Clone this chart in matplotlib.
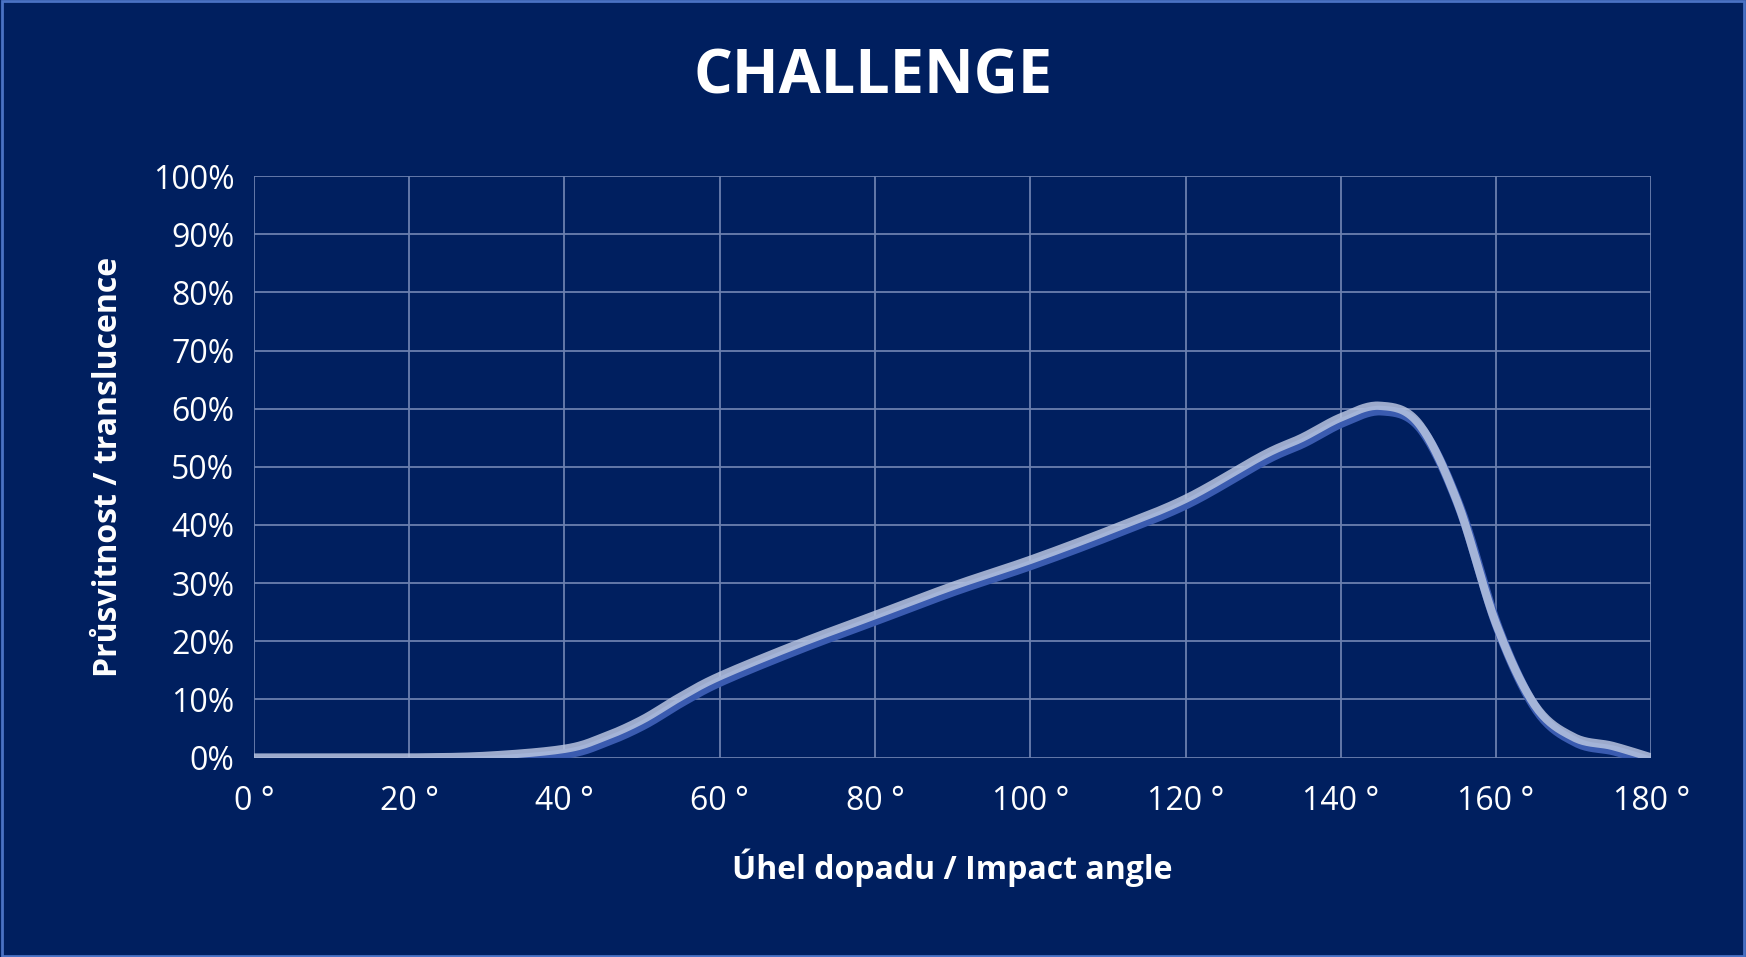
"""Challenge translucence vs impact angle chart."""

import matplotlib

matplotlib.use("Agg")

import matplotlib.pyplot as plt
import matplotlib.patheffects as pe
import numpy as np
from matplotlib.patches import Rectangle
from matplotlib.ticker import FuncFormatter, MultipleLocator

ANGLES = [0, 10, 20, 30, 40, 45, 50, 55, 60, 70, 80, 90, 100, 110, 120,
          130, 135, 140, 145, 150, 155, 160, 165, 170, 175, 180]
TRANSLUCENCE = [0, 0, 0, 0.3, 1.5, 3.5, 6.5, 10.5, 14, 19.5, 24.5, 29.5, 34,
                39, 44.5, 52, 55, 58.5, 60.5, 57.5, 44, 23, 9, 3.5, 2, 0]

BG = "#001f5f"
GRID = "#6b7fae"
FONT = ["Open Sans", "DejaVu Sans"]


def smooth(x, y, steps=20):
    # Catmull-Rom curve through the points, like a smoothed spreadsheet line
    x = np.asarray(x, float)
    y = np.asarray(y, float)
    px = np.concatenate([[x[0]], x, [x[-1]]])
    py = np.concatenate([[y[0]], y, [y[-1]]])
    xs, ys = [], []
    t = np.linspace(0, 1, steps, endpoint=False)
    for i in range(1, len(px) - 2):
        for arr, out in ((px, xs), (py, ys)):
            p0, p1, p2, p3 = arr[i - 1:i + 3]
            out.extend(0.5 * ((2 * p1) + (-p0 + p2) * t
                              + (2 * p0 - 5 * p1 + 4 * p2 - p3) * t ** 2
                              + (-p0 + 3 * p1 - 3 * p2 + p3) * t ** 3))
    xs.append(x[-1])
    ys.append(y[-1])
    return np.array(xs), np.clip(np.array(ys), 0, None)


fig = plt.figure(figsize=(17.46, 9.57), dpi=100, facecolor=BG)
fig.patches.append(Rectangle((0.001, 0.001), 0.998, 0.998, transform=fig.transFigure,
                             fill=False, edgecolor="#4a72c4", linewidth=2))
ax = fig.add_axes([0.1454, 0.2084, 0.8004, 0.6076], facecolor=BG)

sx, sy = smooth(ANGLES, TRANSLUCENCE)
ax.plot(sx, sy, color="#b8c4e0", alpha=0.85, linewidth=6, solid_capstyle="round",
        path_effects=[pe.SimpleLineShadow(offset=(1.5, -3.5), shadow_color="#3a5bb0",
                                          alpha=1.0, linewidth=7), pe.Normal()],
        zorder=3)

ax.set_xlim(0, 180)
ax.set_ylim(0, 100)
ax.xaxis.set_major_locator(MultipleLocator(20))
ax.yaxis.set_major_locator(MultipleLocator(10))
ax.xaxis.set_major_formatter(FuncFormatter(lambda v, _: f"{v:.0f} °"))
ax.yaxis.set_major_formatter(FuncFormatter(lambda v, _: f"{v:.0f}%"))
ax.grid(True, color=GRID, linewidth=1.3)
for side in ax.spines.values():
    side.set_visible(False)
ax.tick_params(length=0, colors="white", labelsize=23, pad=14)
ax.tick_params(axis="x", pad=20)
for lbl in ax.get_xticklabels() + ax.get_yticklabels():
    lbl.set_family(FONT)

ax.set_xlabel("Úhel dopadu / Impact angle", color="white", fontsize=23,
              fontweight="bold", family=FONT, labelpad=22)
ax.set_ylabel("Průsvitnost / translucence", color="white", fontsize=23,
              fontweight="bold", family=FONT, labelpad=20)
title = fig.text(0.5, 0.918, "CHALLENGE", color="white",
                 fontsize=44, fontweight="bold", family=FONT, ha="center", va="center")

fig.savefig("out.png", dpi=100, facecolor=BG)
